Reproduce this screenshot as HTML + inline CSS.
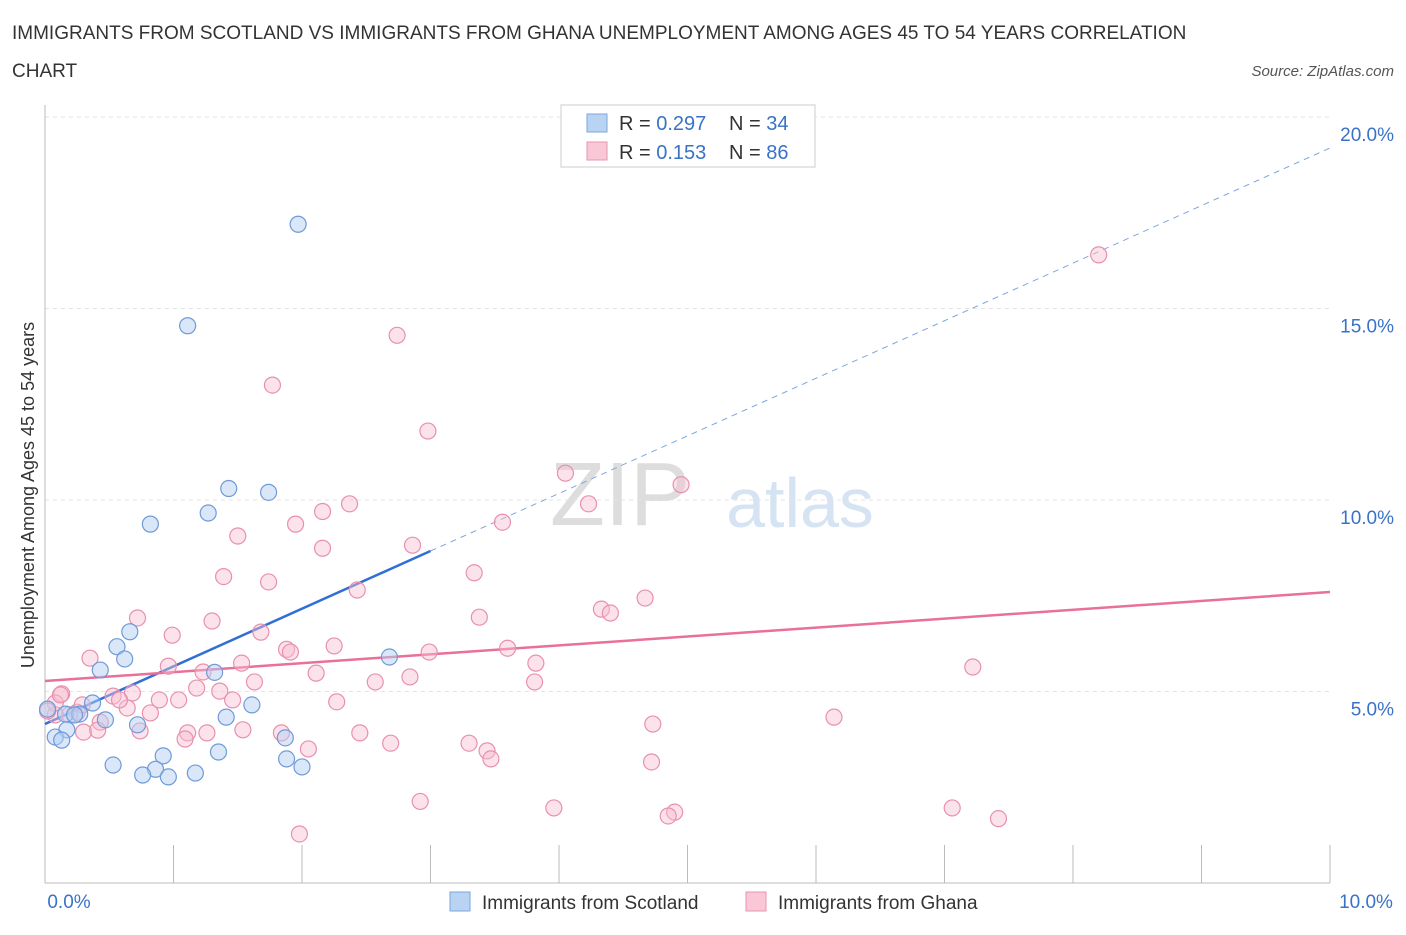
<!DOCTYPE html>
<html><head><meta charset="utf-8">
<style>
body{margin:0;background:#fff;font-family:"Liberation Sans",sans-serif;}
svg text{font-family:"Liberation Sans",sans-serif;}
</style></head>
<body>
<svg id="chart" width="1406" height="930">
<text x="12" y="39" font-size="19" fill="#333">IMMIGRANTS FROM SCOTLAND VS IMMIGRANTS FROM GHANA UNEMPLOYMENT AMONG AGES 45 TO 54 YEARS CORRELATION</text>
<text x="12" y="77" font-size="19" fill="#333">CHART</text>
<text x="1394" y="76" font-size="15" fill="#555" font-style="italic" text-anchor="end">Source: ZipAtlas.com</text>
<text x="620" y="525" font-size="90" fill="#ddd" font-family="Liberation Serif" text-anchor="middle">ZIP</text>
<text x="800" y="527" font-size="70" fill="#d5e3f3" text-anchor="middle">atlas</text>
<g id="grid"></g>
<g id="axes"></g>
<g id="lines"></g>
<g id="pts"></g>
<g>
<rect x="561" y="105" width="254" height="62" fill="#fff" stroke="#ccc"/>
<rect x="587" y="114" width="20" height="18" fill="#b9d4f3" stroke="#7aa6dd"/>
<rect x="587" y="142" width="20" height="18" fill="#f9c7d6" stroke="#e895b0"/>
<text x="619" y="130" font-size="20" fill="#333">R = <tspan fill="#3a72c8">0.297</tspan></text>
<text x="729" y="130" font-size="20" fill="#333">N = <tspan fill="#3a72c8">34</tspan></text>
<text x="619" y="159" font-size="20" fill="#333">R =  <tspan fill="#3a72c8">0.153</tspan></text>
<text x="729" y="159" font-size="20" fill="#333">N = <tspan fill="#3a72c8">86</tspan></text>
</g>
<g>
<rect x="450" y="892" width="20" height="19" fill="#b9d4f3" stroke="#7aa6dd"/>
<text x="482" y="909" font-size="19" fill="#333">Immigrants from Scotland</text>
<rect x="746" y="892" width="20" height="19" fill="#f9c7d6" stroke="#e895b0"/>
<text x="778" y="909" font-size="19" fill="#333">Immigrants from Ghana</text>
</g>
<text transform="translate(34,495) rotate(-90)" font-size="18" fill="#333" text-anchor="middle">Unemployment Among Ages 45 to 54 years</text>
</svg>
<script>
const yTicks=[5,10,15,20];
const yTickLabels=["5.0%","10.0%","15.0%","20.0%"];
const xTickLabels=["0.0%","10.0%"];
const scotX=[1.97,1.11,1.43,1.74,1.27,0.82,0.66,0.56,0.62,0.43,1.32,2.68,0.37,1.61,1.41,0.16,0.27,0.47,0.72,0.17,0.08,0.13,1.87,1.35,0.92,1.88,2.0,0.53,0.86,0.76,0.96,1.17,0.02,0.23];
const scotY=[17.2,14.55,10.3,10.2,9.66,9.37,6.56,6.17,5.85,5.56,5.5,5.9,4.7,4.65,4.33,4.41,4.41,4.26,4.13,4.0,3.81,3.73,3.79,3.42,3.32,3.24,3.03,3.08,2.97,2.82,2.77,2.87,4.54,4.39];
const ghanaX=[8.2,2.74,1.77,2.98,4.05,4.95,2.37,4.23,2.16,1.95,3.56,1.5,2.86,2.16,1.39,1.74,3.34,2.43,0.72,1.3,4.33,4.4,4.67,3.38,0.99,1.68,2.25,3.6,1.88,1.91,2.99,0.35,1.53,0.96,1.23,3.82,7.22,2.11,2.84,2.57,1.63,3.81,1.18,1.36,0.68,0.53,0.89,1.04,1.46,2.27,0.13,0.82,0.64,0.25,0.19,0.43,0.08,6.14,4.73,1.54,1.84,1.11,1.26,2.45,0.3,0.41,0.74,1.09,3.3,2.69,2.05,3.44,4.72,3.47,2.92,3.96,7.06,4.9,4.85,7.42,1.98,0.08,0.12,0.02,0.29,0.58];
const ghanaY=[16.4,14.3,13.0,11.8,10.7,10.4,9.9,9.9,9.7,9.37,9.42,9.06,8.82,8.74,8.0,7.86,8.1,7.65,6.92,6.84,7.15,7.05,7.44,6.94,6.47,6.55,6.19,6.13,6.1,6.03,6.03,5.87,5.74,5.66,5.51,5.74,5.64,5.48,5.38,5.25,5.25,5.25,5.09,5.01,4.96,4.88,4.78,4.78,4.78,4.73,4.94,4.44,4.57,4.46,4.39,4.2,4.39,4.33,4.15,4.0,3.92,3.92,3.92,3.92,3.94,3.99,3.97,3.76,3.65,3.65,3.5,3.45,3.16,3.24,2.13,1.96,1.96,1.85,1.75,1.68,1.28,4.7,4.91,4.49,4.65,4.78];
const sx=v=>45+v*128.5, sy=v=>883-v*38.3;
const NS="http://www.w3.org/2000/svg";
function mk(tag,attrs,parent){const e=document.createElementNS(NS,tag);for(const k in attrs)e.setAttribute(k,attrs[k]);document.getElementById(parent).appendChild(e);return e;}
yTicks.forEach((t,i)=>{
 const l=mk('line',{x1:45,x2:1330,y1:sy(t),y2:sy(t),stroke:'#e3e3e3','stroke-dasharray':'4,4'},'grid');
 
 
 const tx=mk('text',{x:1394,y:sy(t)+24,'font-size':19,fill:'#3a72c8','text-anchor':'end'},'grid');tx.textContent=yTickLabels[i];
 
 
});
const ax=mk('line',{x1:45,x2:1330,y1:883,y2:883,stroke:'#bbb'},'axes');


const ay=mk('line',{x1:45,x2:45,y1:105,y2:883,stroke:'#bbb'},'axes');


for(let i=0;i<=10;i++){const t=mk('line',{x1:sx(i),x2:sx(i),y1:845,y2:883,stroke:'#bbb'},'axes');
 
 }
[[0,69,'middle'],[10,1366,'middle']].forEach((d,i)=>{const t=mk('text',{x:d[1],y:908,'font-size':19,fill:'#3a72c8','text-anchor':d[2]},'axes');t.textContent=xTickLabels[i];
 
 });
const bl=mk('line',{x1:sx(0),y1:724,x2:sx(3.0),y2:551,stroke:'#2f6fd6','stroke-width':2.5},'lines');


const bd=mk('line',{x1:sx(3.0),y1:551,x2:sx(10),y2:148,stroke:'#7ea6df','stroke-width':1,'stroke-dasharray':'6,5'},'lines');


const pl=mk('line',{x1:sx(0),y1:681,x2:sx(10),y2:592,stroke:'#e8709a','stroke-width':2.5},'lines');


ghanaX.forEach((x,i)=>{const c=mk('circle',{cx:sx(x),cy:sy(ghanaY[i]),r:8,fill:'rgba(248,190,208,0.45)',stroke:'#e890ae','stroke-width':1.2},'pts');
 
 });
scotX.forEach((x,i)=>{const c=mk('circle',{cx:sx(x),cy:sy(scotY[i]),r:8,fill:'rgba(180,208,243,0.5)',stroke:'#6f9ad8','stroke-width':1.2},'pts');
 
 });
</script>
</body></html>
